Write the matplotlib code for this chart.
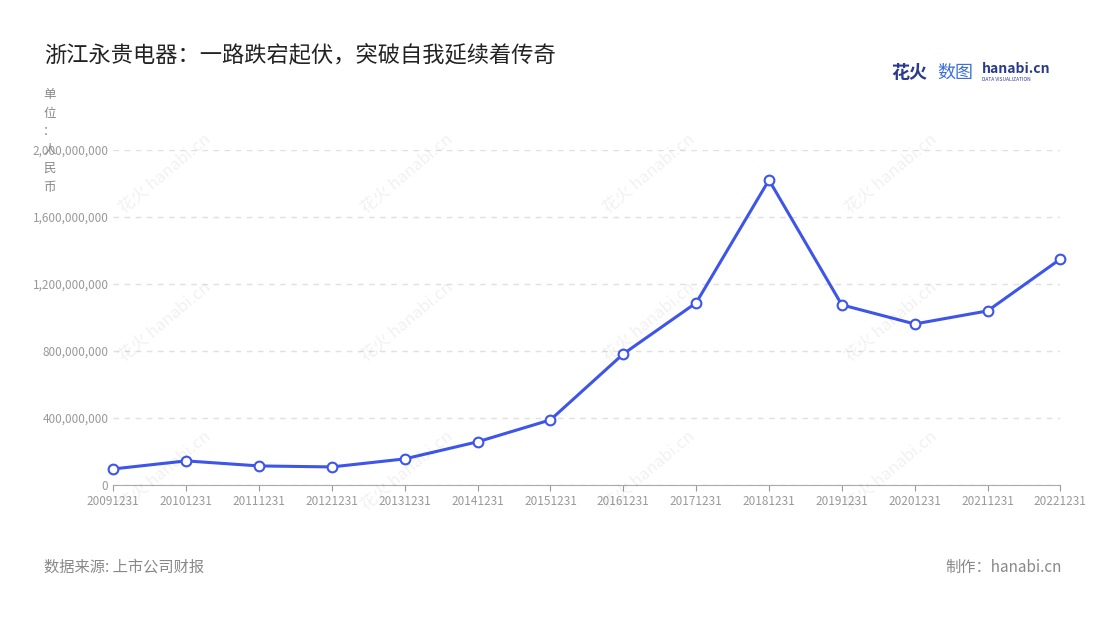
import matplotlib
matplotlib.use("Agg")
import matplotlib.pyplot as plt
from matplotlib.ticker import FuncFormatter

plt.rcParams['font.family'] = ['Noto Sans CJK SC', 'DejaVu Sans']

dates = ["20091231","20101231","20111231","20121231","20131231","20141231","20151231",
         "20161231","20171231","20181231","20191231","20201231","20211231","20221231"]
values = [95e6,143e6,113e6,107e6,155e6,257e6,388e6,782e6,1087e6,1821e6,1075e6,961e6,1039e6,1349e6]
yticks = [0,400e6,800e6,1200e6,1600e6,2000e6]

fig = plt.figure(figsize=(11,6.2), dpi=100)
ax = fig.add_axes([0.103,0.218,0.861,0.540])
x = list(range(len(dates)))
ax.plot(x, values, color='#3d55e8', lw=2.2, marker='o', ms=7, mfc='white', mec='#3d55e8', mew=1.5, zorder=3, clip_on=False)
ax.set_xlim(0, len(dates)-1)
ax.set_ylim(0, 2e9)
ax.set_xticks(x)
ax.set_xticklabels(dates)
ax.set_yticks(yticks)
ax.yaxis.set_major_formatter(FuncFormatter(lambda v,p: f"{int(v):,}"))
ax.tick_params(colors='#999999', labelsize=8.5, length=4)
ax.tick_params(axis='y', length=0)
ax.grid(axis='y', color='#e0e0e0', ls=(0,(4,4)), lw=1)
for s in ['top','right','left']:
    ax.spines[s].set_visible(False)
ax.spines['bottom'].set_color('#aaaaaa')

fig.text(0.04, 0.91, "浙江永贵电器：一路跌宕起伏，突破自我延续着传奇", fontsize=16, color='#222222', va='center')
fig.text(0.045, 0.858, "单\n位\n：\n人\n民\n币", fontsize=9, color='#888888', va='top', ha='center', linespacing=1.55)
fig.text(0.04, 0.085, "数据来源: 上市公司财报", fontsize=11, color='#888888', va='center')
fig.text(0.965, 0.085, "制作：hanabi.cn", fontsize=11, color='#888888', va='center', ha='right')
fig.text(0.81, 0.883, "花火", fontsize=13, color='#2b3a8c', weight='bold', va='center')
fig.text(0.852, 0.883, "数图", fontsize=13, color='#3d6fd8', va='center')
fig.text(0.893, 0.888, "hanabi.cn", fontsize=10, color='#2b3a8c', weight='bold', va='center')
fig.text(0.893, 0.871, "DATA VISUALIZATION", fontsize=3.5, color='#2b3a8c', va='center')

for wx in [0.15, 0.37, 0.59, 0.81]:
    for wy in [0.72, 0.48, 0.24]:
        fig.text(wx, wy, "花火 hanabi.cn", fontsize=12, color='#000000', alpha=0.06, rotation=40, ha='center', va='center')

fig.savefig("out.png")
